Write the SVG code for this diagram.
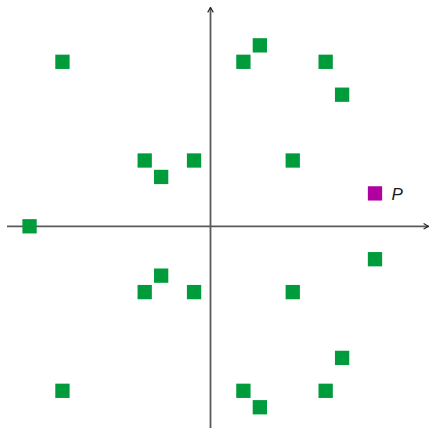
<svg xmlns="http://www.w3.org/2000/svg" width="430" height="428" viewBox="0 0 430 428">
<style>
.ax{stroke:#5a5a5a;stroke-width:1.8;fill:none}
.g{fill:#009b3a}
.p{fill:#b000a0}
.lbl{font-family:"Liberation Sans",Arial,sans-serif;font-style:italic;font-size:17px;fill:#1a1a1a}
</style>
<defs>
<marker id="ah" viewBox="0 0 10 10" refX="9" refY="5" markerWidth="7" markerHeight="8" markerUnits="userSpaceOnUse" orient="auto">
<path d="M2,1 L9,5 L2,9" fill="none" stroke="#222" stroke-width="1.6"/>
</marker>
<rect id="sq" x="-7.15" y="-7.15" width="14.3" height="14.3"/>
</defs>
<rect width="430" height="428" fill="#fff"/>
<g id="axes">
<line class="ax" x1="7" y1="226.3" x2="428.5" y2="226.3" marker-end="url(#ah)"/>
<line class="ax" x1="210.5" y1="428" x2="210.5" y2="7.5" marker-end="url(#ah)"/>
</g>
<g id="n1"><use href="#sq" class="g" x="62.45" y="61.8"/></g>
<g id="n2"><use href="#sq" class="g" x="243.4" y="61.8"/></g>
<g id="n3"><use href="#sq" class="g" x="259.85" y="45.35"/></g>
<g id="n4"><use href="#sq" class="g" x="325.65" y="61.8"/></g>
<g id="n5"><use href="#sq" class="g" x="342.1" y="94.7"/></g>
<g id="n6"><use href="#sq" class="g" x="144.7" y="160.5"/></g>
<g id="n7"><use href="#sq" class="g" x="161.15" y="176.95"/></g>
<g id="n8"><use href="#sq" class="g" x="194.05" y="160.5"/></g>
<g id="n9"><use href="#sq" class="g" x="292.75" y="160.5"/></g>
<g id="n10"><use href="#sq" class="g" x="29.55" y="226.3"/></g>
<g id="n11"><use href="#sq" class="g" x="375" y="259.2"/></g>
<g id="n12"><use href="#sq" class="g" x="161.15" y="275.65"/></g>
<g id="n13"><use href="#sq" class="g" x="144.7" y="292.1"/></g>
<g id="n14"><use href="#sq" class="g" x="194.05" y="292.1"/></g>
<g id="n15"><use href="#sq" class="g" x="292.75" y="292.1"/></g>
<g id="n16"><use href="#sq" class="g" x="342.1" y="357.9"/></g>
<g id="n17"><use href="#sq" class="g" x="62.45" y="390.8"/></g>
<g id="n18"><use href="#sq" class="g" x="243.4" y="390.8"/></g>
<g id="n19"><use href="#sq" class="g" x="325.65" y="390.8"/></g>
<g id="n20"><use href="#sq" class="g" x="259.85" y="407.25"/></g>
<g id="nP"><use href="#sq" class="p" x="375" y="193.4"/><text class="lbl" x="391.5" y="199.5">P</text></g>
</svg>
